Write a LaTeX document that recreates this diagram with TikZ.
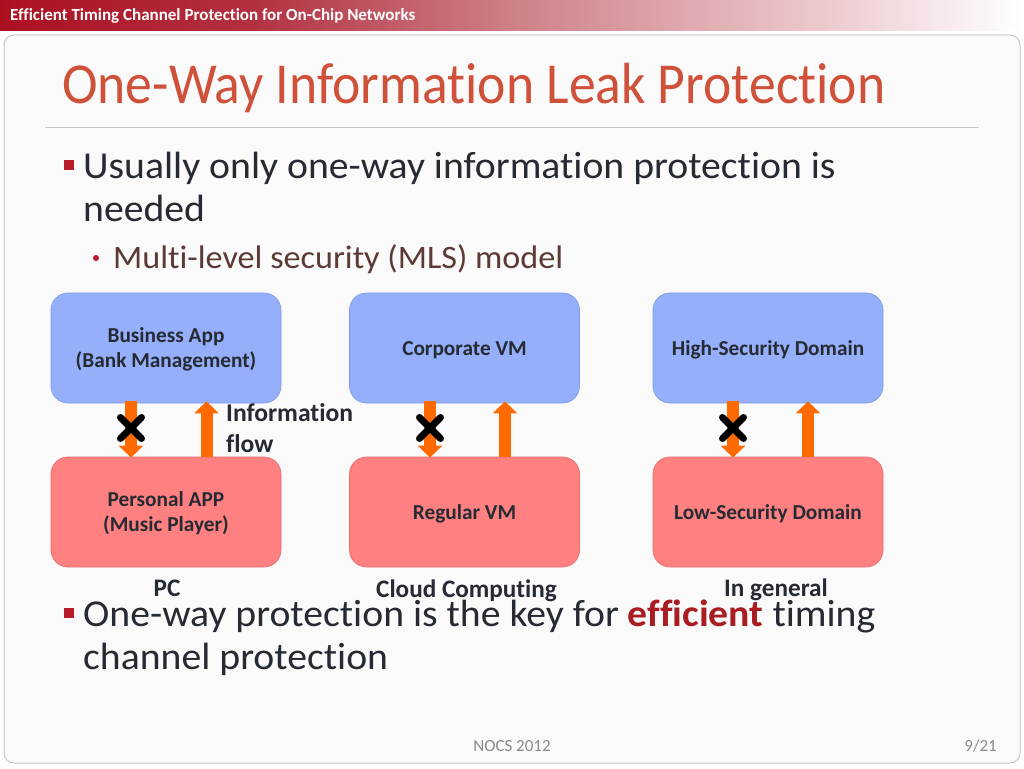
\documentclass[tikz,border=0pt]{standalone}
\usepackage{fontspec}
\setmainfont[Ligatures=NoCommon]{Carlito}
\usetikzlibrary{arrows.meta,shapes.misc,calc}
\definecolor{hdrred}{HTML}{AC1020}
\definecolor{hdrmida}{HTML}{B23040}
\definecolor{hdrmidb}{HTML}{CE8088}
\definecolor{hdrmidc}{HTML}{ECC8CC}
\definecolor{titlered}{HTML}{CF513A}
\definecolor{bodyink}{HTML}{252A33}
\definecolor{subink}{HTML}{5C3A36}
\definecolor{bulletred}{HTML}{B71C2A}
\definecolor{emphred}{HTML}{A81C22}
\definecolor{bluefill}{HTML}{95AFFB}
\definecolor{blueedge}{HTML}{7F9BE8}
\definecolor{redfill}{HTML}{FF8080}
\definecolor{rededge}{HTML}{E66E6E}
\definecolor{flow}{HTML}{FF6A00}
\definecolor{panelfill}{HTML}{FAFAFA}
\definecolor{paneledge}{HTML}{C8C8C8}
\definecolor{footink}{HTML}{8A8A8A}
\pgfdeclarehorizontalshading{hdrfade}{100bp}{color(0bp)=(hdrred);color(25bp)=(hdrred);color(37.2bp)=(hdrmida);color(50bp)=(hdrmidb);color(65bp)=(hdrmidc);color(75bp)=(white);color(100bp)=(white)}
\newfontfamily\bodyfont[FakeStretch=1.045,Ligatures=NoCommon]{Carlito}
\newfontfamily\titlefont[FakeStretch=0.925,Ligatures=NoCommon]{Carlito}
\newcommand{\lowtext}[1]{\raisebox{-2pt}[\height][\depth]{#1}}
\newcommand{\lowlines}[2]{\raisebox{-2pt}[\height][\depth]{\begin{tabular}{@{}c@{}}#1\\#2\end{tabular}}}
\tikzset{
  domainbox/.style={rounded corners=17pt,minimum width=230pt,minimum height=110pt,line width=0.7pt,align=center,inner sep=0pt,text=bodyink,font=\fontsize{21.3}{25.5}\selectfont\bfseries},
  bluebox/.style={domainbox,fill=bluefill,draw=blueedge},
  redbox/.style={domainbox,fill=redfill,draw=rededge},
  flowarrow/.style={line width=12pt,draw=flow,-{Triangle[length=12pt,width=24pt,sep=0pt]}},
  blocked/.style={cross out,draw=black,line width=7pt,minimum size=14pt,inner sep=0pt,line cap=round},
  caption/.style={anchor=base,text=bodyink,font=\fontsize{25.2}{30}\selectfont\bfseries},
  bodytext/.style={anchor=base west,text=bodyink,font=\bodyfont\fontsize{38}{44}\selectfont,inner sep=0pt},
  bulletmark/.style={fill=bulletred,minimum size=10pt,inner sep=0pt},
}
\begin{document}
\begin{tikzpicture}[x=1pt,y=-1pt]
\useasboundingbox (0,0) rectangle (1024,768);
\fill[white] (0,0) rectangle (1024,768);
\shade[shading=hdrfade] (0,0) rectangle (1024,31);
\node[anchor=base west,inner sep=0pt,text=white,font=\fontsize{17}{20}\selectfont\bfseries] (hdr) at (10,21) {Efficient Timing Channel Protection for On-Chip Networks};
\draw[paneledge,fill=panelfill,line width=1pt,rounded corners=10pt] (4,35) rectangle (1020,763);
\node[anchor=base west,inner sep=0pt,text=titlered,font=\titlefont\fontsize{58}{64}\selectfont] (title) at (62,103) {One-Way Information Leak Protection};
\draw[paneledge,line width=1pt] (45,127) -- (979,127);

\node[bulletmark] (b1) at (69,165) {};
\node[bodytext] (t1) at (83,178) {Usually only one-way information protection is};
\node[bodytext] (t1b) at (83,221) {needed};
\node[circle,fill=bulletred,minimum size=6pt,inner sep=0pt] (b2) at (96,258) {};
\node[anchor=base west,inner sep=0pt,text=subink,font=\bodyfont\fontsize{32.7}{40}\selectfont] (t2) at (113,268) {Multi-level security (MLS) model};

\node[bluebox] (app) at (166,348) {\lowlines{Business App}{(Bank Management)}};
\node[bluebox] (corp) at (464.5,348) {\lowtext{Corporate VM}};
\node[bluebox] (high) at (768,348) {\lowtext{High-Security Domain}};
\node[redbox] (pers) at (166,512) {\lowlines{Personal APP}{(Music Player)}};
\node[redbox] (reg) at (464.5,512) {\lowtext{Regular VM}};
\node[redbox] (low) at (768,512) {\lowtext{Low-Security Domain}};

\draw[flowarrow] ($(app.south)+(-35,-2)$) -- ($(pers.north)+(-35,1)$);
\draw[flowarrow] ($(pers.north)+(40.5,0)$) -- ($(app.south)+(40.5,-2)$);
\draw[flowarrow] ($(corp.south)+(-34.5,-2)$) -- ($(reg.north)+(-34.5,1)$);
\draw[flowarrow] ($(reg.north)+(40.5,0)$) -- ($(corp.south)+(40.5,-2)$);
\draw[flowarrow] ($(high.south)+(-35,-2)$) -- ($(low.north)+(-35,1)$);
\draw[flowarrow] ($(low.north)+(40,0)$) -- ($(high.south)+(40,-2)$);

\node[blocked] (x1) at (131,428) {};
\node[blocked] (x2) at (430,428) {};
\node[blocked] (x3) at (733,428) {};

\node[anchor=base west,inner sep=0pt,text=bodyink,font=\fontsize{25.6}{30}\selectfont\bfseries] (info) at (226,421) {Information};
\node[anchor=base west,inner sep=0pt,text=bodyink,font=\fontsize{25.6}{30}\selectfont\bfseries] (flowlbl) at (226,452) {flow};

\node[caption] (c1) at (167,596) {PC};
\node[caption] (c2) at (466.5,597) {Cloud Computing};
\node[caption] (c3) at (776,596) {In general};

\node[bulletmark] (b3) at (69,613) {};
\node[bodytext] (t3) at (83,626) {One-way protection is the key for {\color{emphred}\bfseries efficient} timing};
\node[bodytext] (t3b) at (83,669) {channel protection};

\node[anchor=base,inner sep=0pt,text=footink,font=\fontsize{17}{20}\selectfont] (foot) at (512,751) {NOCS 2012};
\node[anchor=base east,inner sep=0pt,text=footink,font=\fontsize{17}{20}\selectfont] (page) at (997,751) {9/21};
\end{tikzpicture}
\end{document}
